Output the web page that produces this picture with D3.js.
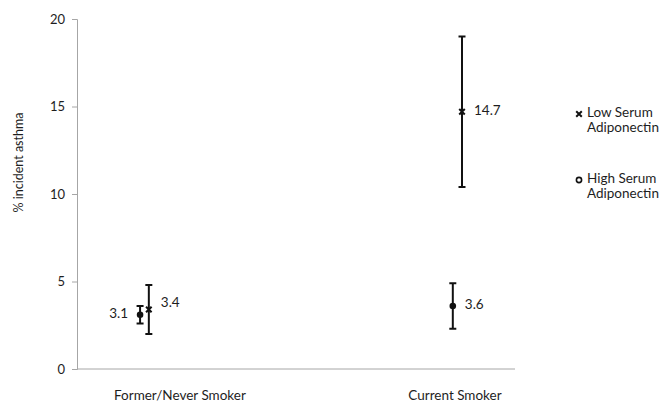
<!DOCTYPE html>
<html>
<head>
<meta charset="utf-8">
<script src="https://cdn.jsdelivr.net/npm/d3@7"></script>
<style>
  body { margin: 0; background: #fff; }
  text { font-family: Lato, "Open Sans", sans-serif; fill: #1e1e1e; }
</style>
</head>
<body>
<div id="chart"></div>
<script>
// category labels and where they sit on the x range (0..10)
const categories = ['Former/Never Smoker', 'Current Smoker'];
const categoryX = [2.35, 8.63];

// series: x position, mean, lower and upper error bounds
const lowX = [1.64, 8.79];
const lowMean = [3.4, 14.7];
const lowLower = [2.0, 10.4];
const lowUpper = [4.8, 19.0];

const highX = [1.44, 8.58];
const highMean = [3.1, 3.6];
const highLower = [2.6, 2.3];
const highUpper = [3.6, 4.9];

const yTicks = [0, 5, 10, 15, 20];
const seriesNames = ['Low Serum\nAdiponectin', 'High Serum\nAdiponectin'];

const width = 667, height = 404;
const margin = { top: 19, right: 152, bottom: 35, left: 77 };

const svg = d3.select('#chart').append('svg')
    .attr('width', width)
    .attr('height', height);

const x = d3.scaleLinear().domain([0, 10]).range([margin.left, width - margin.right]);
const y = d3.scaleLinear().domain([0, 20]).range([height - margin.bottom, margin.top]);

// y axis
const yAxis = svg.append('g')
    .attr('transform', `translate(${margin.left},0)`)
    .call(d3.axisLeft(y).tickValues(yTicks).tickSize(5).tickPadding(7));
yAxis.select('.domain').attr('stroke', '#a6a6a6');
yAxis.selectAll('.tick line').attr('stroke', '#a6a6a6');
yAxis.selectAll('.tick text').style('font-size', '13px').attr('fill', '#1e1e1e');

// x axis line
svg.append('line')
    .attr('x1', margin.left).attr('x2', width - margin.right)
    .attr('y1', y(0)).attr('y2', y(0))
    .attr('stroke', '#a6a6a6');

svg.selectAll('.cat')
    .data(categories)
    .enter().append('text')
    .attr('class', 'cat')
    .attr('x', (d, i) => x(categoryX[i]))
    .attr('y', y(0) + 31)
    .attr('text-anchor', 'middle')
    .style('font-size', '13.5px')
    .text(d => d);

// y label
svg.append('text')
    .attr('transform', `translate(20,${y(11.8)}) rotate(-90)`)
    .attr('text-anchor', 'middle')
    .attr('dominant-baseline', 'middle')
    .style('font-size', '12.5px')
    .text('% incident asthma');

function errorBars(xs, lo, hi) {
    const g = svg.append('g').attr('stroke', '#111').attr('stroke-width', 2);
    xs.forEach((xv, i) => {
        const cx = x(xv);
        g.append('line').attr('x1', cx).attr('x2', cx).attr('y1', y(lo[i])).attr('y2', y(hi[i]));
        g.append('line').attr('x1', cx - 3.5).attr('x2', cx + 3.5).attr('y1', y(lo[i])).attr('y2', y(lo[i]));
        g.append('line').attr('x1', cx - 3.5).attr('x2', cx + 3.5).attr('y1', y(hi[i])).attr('y2', y(hi[i]));
    });
}
errorBars(lowX, lowLower, lowUpper);
errorBars(highX, highLower, highUpper);

// markers
const cross = d3.symbol().type(d3.symbolX).size(22);
svg.selectAll('.low')
    .data(lowMean)
    .enter().append('path')
    .attr('class', 'low')
    .attr('d', cross)
    .attr('transform', (d, i) => `translate(${x(lowX[i])},${y(d)})`)
    .attr('stroke', '#111').attr('stroke-width', 2);

svg.selectAll('.high')
    .data(highMean)
    .enter().append('circle')
    .attr('class', 'high')
    .attr('cx', (d, i) => x(highX[i]))
    .attr('cy', d => y(d))
    .attr('r', 3.3)
    .attr('fill', '#111');

// value labels
const labelFmt = d3.format('.1f');
svg.selectAll('.lowlab')
    .data(lowMean)
    .enter().append('text')
    .attr('class', 'lowlab')
    .attr('x', (d, i) => x(lowX[i]) + 12)
    .attr('y', (d, i) => y(d) - (i === 0 ? 6 : 0))
    .attr('dominant-baseline', 'middle')
    .style('font-size', '13.5px')
    .text(d => labelFmt(d));

svg.selectAll('.highlab')
    .data(highMean)
    .enter().append('text')
    .attr('class', 'highlab')
    .attr('x', (d, i) => i === 0 ? x(highX[i]) - 12 : x(highX[i]) + 12)
    .attr('y', d => y(d))
    .attr('text-anchor', (d, i) => i === 0 ? 'end' : 'start')
    .attr('dominant-baseline', 'middle')
    .style('font-size', '13.5px')
    .text(d => labelFmt(d));

// legend
const legend = svg.append('g').attr('transform', 'translate(579,114)');
seriesNames.forEach((name, i) => {
    const row = legend.append('g').attr('transform', `translate(0,${i * 66})`);
    if (i === 0) {
        row.append('path').attr('d', cross).attr('stroke', '#111').attr('stroke-width', 2);
    } else {
        row.append('circle').attr('r', 2.6).attr('fill', '#fff').attr('stroke', '#111').attr('stroke-width', 1.6);
    }
    name.split('\n').forEach((line, j) => {
        row.append('text')
            .attr('x', 8)
            .attr('y', j * 15)
            .attr('dominant-baseline', 'middle')
            .style('font-size', '13.5px')
            .text(line);
    });
});
</script>
</body>
</html>
